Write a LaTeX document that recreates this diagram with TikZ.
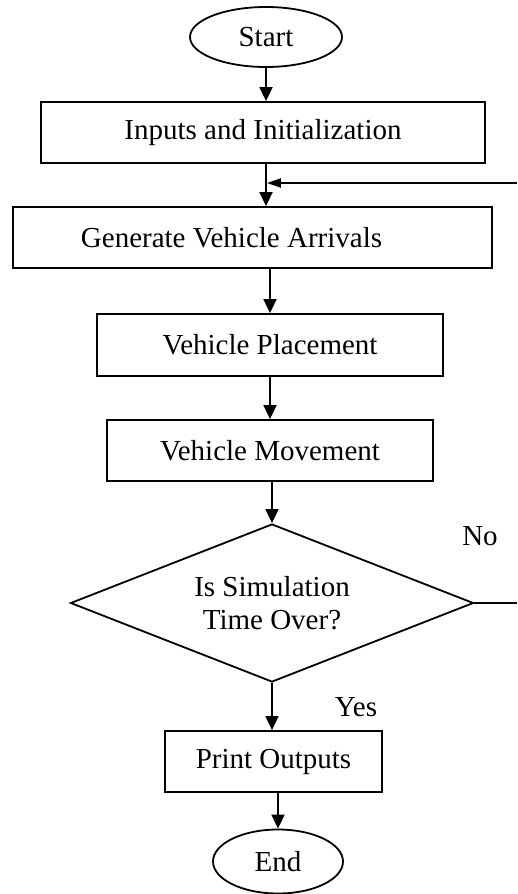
\documentclass[tikz,border=0pt]{standalone}
\usepackage{fontspec}
\setmainfont{Liberation Serif}
\usetikzlibrary{shapes.geometric,arrows.meta}

\tikzstyle {block} = [draw, line width=1.8pt, minimum height=61pt, inner sep=0pt, align=center]
\tikzstyle {terminal} = [draw, ellipse, line width=1.8pt, inner sep=0pt]
\tikzstyle {decision} = [draw, diamond, aspect=2.55, line width=1.8pt, inner sep=0pt, align=center]
\tikzstyle {flow} = [line width=1.8pt, -{Triangle[length=14pt, width=13pt]}]
\tikzstyle {backflow} = [line width=1.8pt, -{Triangle[length=14pt, width=9pt]}]

\begin{document}
\begin{tikzpicture}[x=1pt, y=-1pt, font=\fontsize{29}{33}\selectfont]
            \useasboundingbox (0,0) rectangle (517,894);
            \node [terminal, minimum width=152pt, minimum height=60pt] (start) at (266,37) {Start};
            \node [block, minimum width=444pt] (inputs) at (263,132.5) {Inputs and Initialization};
            \node [block, minimum width=479pt] (generate) at (252.5,237.5) {Generate Vehicle Arrivals\hspace*{42pt}};
            \node [block, minimum width=346pt, minimum height=62pt] (placement) at (270,345) {Vehicle Placement};
            \node [block, minimum width=326pt] (movement) at (270,450.5) {Vehicle Movement};
            \node [decision, minimum width=403pt, minimum height=158pt] (check) at (272,603) {Is Simulation\\Time Over?};
            \node [block, minimum width=217pt] (print) at (273.5,761.5) {Print Outputs};
            \node [terminal, minimum width=130pt, minimum height=64pt] (stop) at (278,861.5) {End};
            \node (no) at (480,536) {No};
            \node (yes) at (356,707) {Yes};
            \coordinate (loopout) at (517,603);
            \coordinate (loopin) at (517,183);

            \draw [flow] (start.south) -- (start.south |- inputs.north);
            \draw [flow] (inputs.south -| start.south) -- (generate.north -| start.south);
            \draw [flow] (placement.north |- generate.south) -- (placement.north);
            \draw [flow] (placement.south) -- (placement.south |- movement.north);
            \draw [flow] (check.north |- movement.south) -- (check.north);
            \draw [flow] (check.south) -- (check.south |- print.north);
            \draw [flow] (stop.north |- print.south) -- (stop.north);
            \draw [line width=1.8pt] (check.east) -- (loopout);
            \draw [backflow] (loopin) -- ([xshift=0.9pt]loopin -| start.south);
        \end{tikzpicture}
\end{document}
